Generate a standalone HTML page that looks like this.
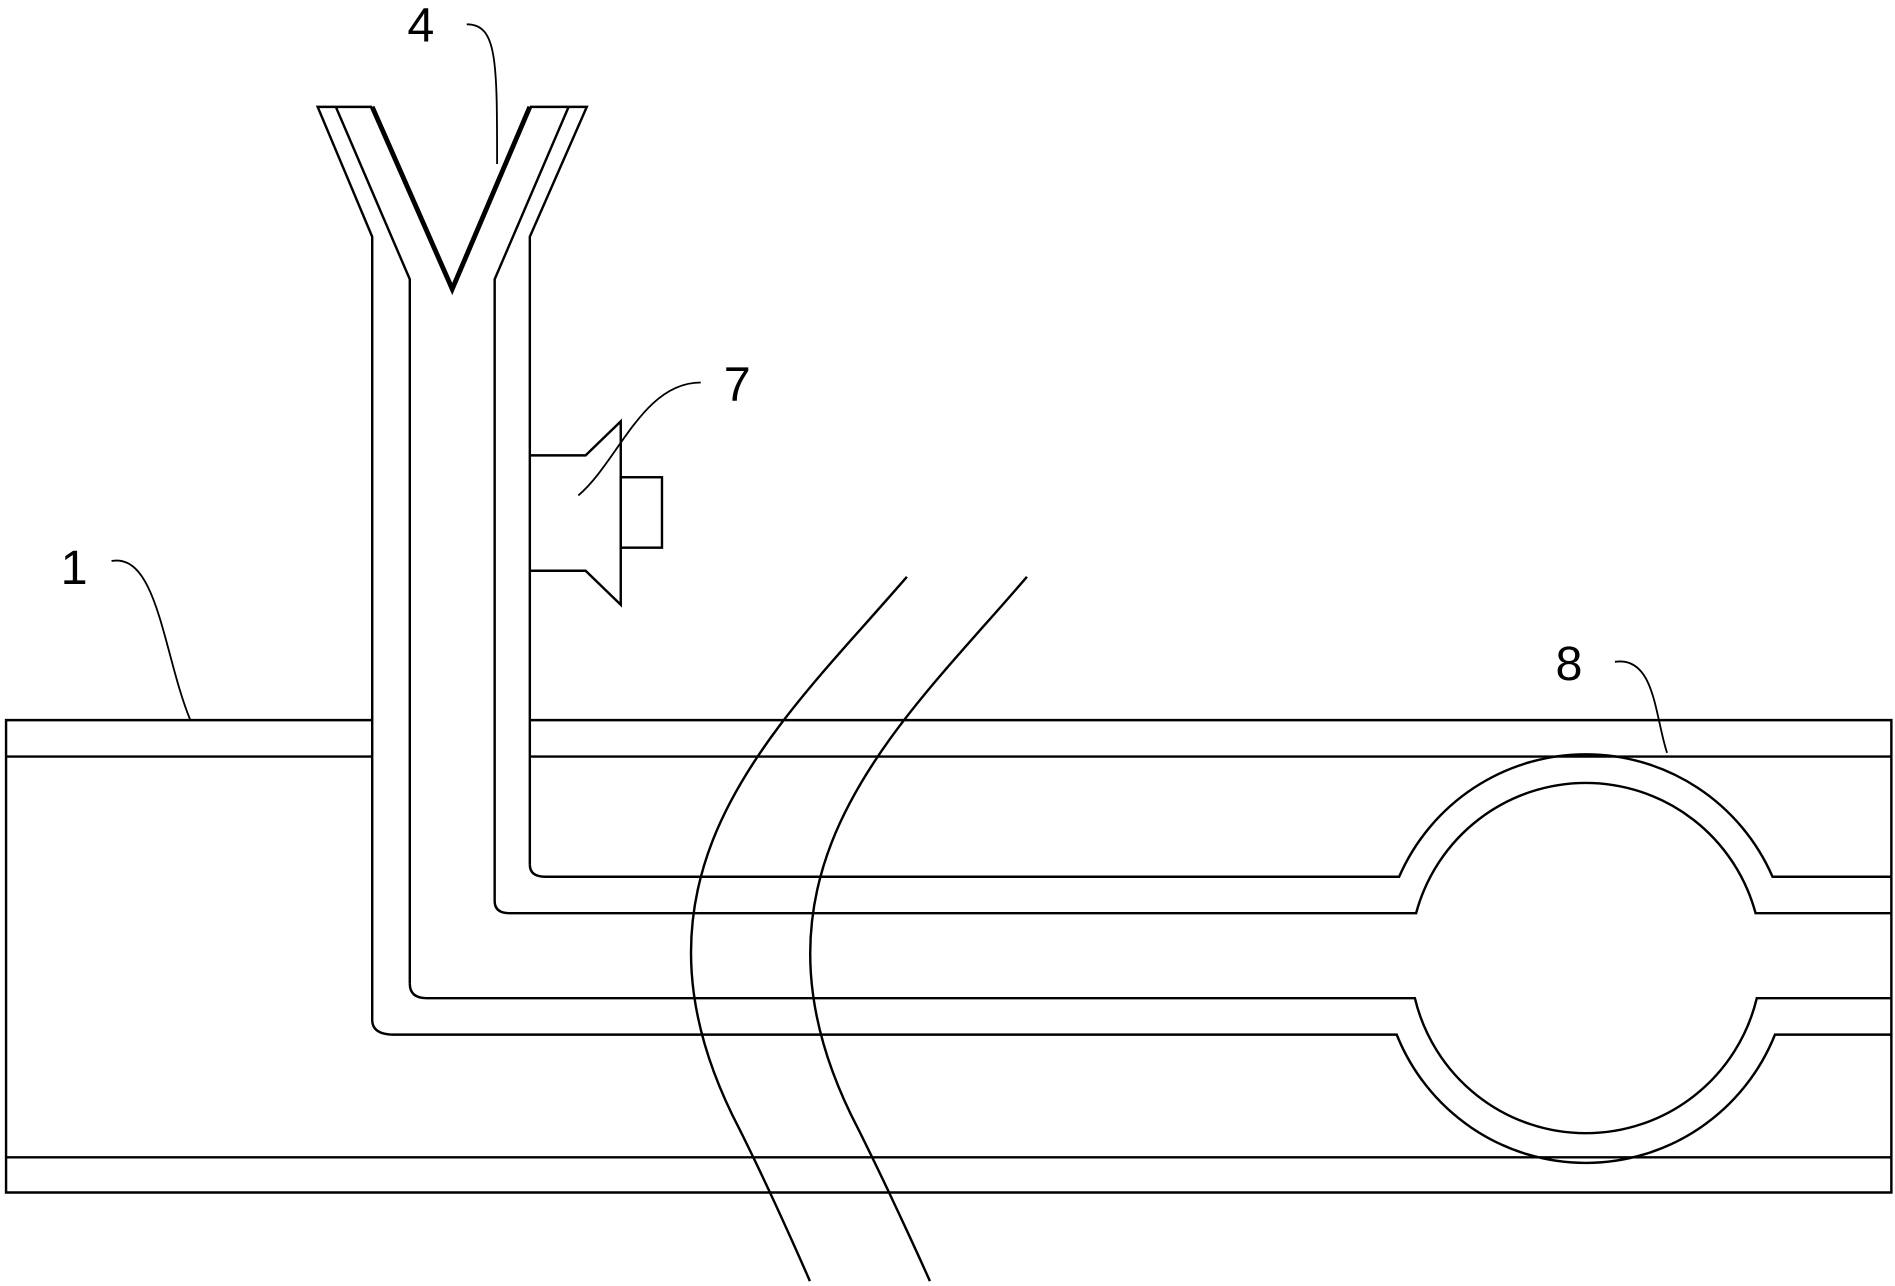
<!DOCTYPE html>
<html><head><meta charset="utf-8"><style>html,body{margin:0;padding:0;background:#fff}svg{display:block}</style></head>
<body>
<svg width="1895" height="1286" viewBox="0 0 1563 1059" preserveAspectRatio="none" xmlns="http://www.w3.org/2000/svg">
<g fill="none" stroke="#000" stroke-width="2">
<path d="M307 593 H5 V982 H1560 V593 H437"/>
<path d="M5 623 H307 M437 623 H1560"/>
<path d="M5 953 H1560"/>
<path d="M307 840 V195 L262 88 H307 M277 88 L338 230 V810"/>
<path d="M437 712 V195 L484 88 H437 M469 88 L408 230 V742"/>
<path d="M307 88 L373 238 L437 88" stroke-width="4"/>
<path d="M307 840 Q307 852 325 852 H1152 A168 168 0 0 0 1464 852 H1560"/>
<path d="M338 810 Q338 822 352 822 H1167 A145 145 0 0 0 1449 822 H1560"/>
<path d="M408 742 Q408 752 420 752 H1168 A145 145 0 0 1 1448 752 H1560"/>
<path d="M437 712 Q437 722 450 722 H1154 A168 168 0 0 1 1462 722 H1560"/>
<path d="M437 375 H483 L512 347 V498 L483 470 H437"/>
<rect x="512" y="393" width="34" height="58"/>
<path d="M748 475 C640 600 500 720 610 930 C640 990 668 1055 668 1055"/>
<path d="M847 475 C740 600 598 720 708 930 C738 990 767 1055 767 1055"/>
<path d="M385 20 C410 20 410 50 410 135" stroke-width="1.5"/>
<path d="M578 315 C530 315 510 380 477 408" stroke-width="1.5"/>
<path d="M92 462 C130 455 135 540 157 593" stroke-width="1.5"/>
<path d="M1332 545 C1365 540 1365 590 1375 620" stroke-width="1.5"/>
</g>
<g font-family="Liberation Sans, sans-serif" font-size="40" fill="#000">
<text x="336" y="34">4</text>
<text x="597" y="330">7</text>
<text x="50" y="481">1</text>
<text x="1283" y="560">8</text>
</g>
</svg>
</body></html>
